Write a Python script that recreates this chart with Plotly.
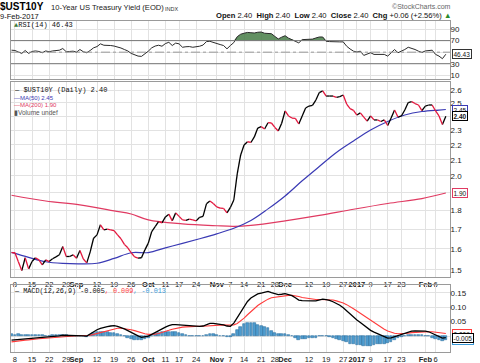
import math
import pandas as pd
import plotly.graph_objects as go

# ---------------- data ----------------
holidays = ["2016-09-05", "2016-10-10", "2016-11-11", "2016-11-24",
            "2016-12-26", "2017-01-02", "2017-01-16"]
dates = [d for d in pd.bdate_range("2016-08-05", "2017-02-09").strftime("%Y-%m-%d")
         if d not in holidays]

close = [1.582, 1.581, 1.538, 1.497, 1.557, 1.505, 1.539, 1.557, 1.547, 1.524,
         1.547, 1.539, 1.552, 1.561, 1.571, 1.611, 1.563, 1.563, 1.571, 1.555,
         1.592, 1.551, 1.533, 1.585, 1.653, 1.670, 1.722, 1.696, 1.699, 1.696,
         1.692, 1.670, 1.650, 1.622, 1.605, 1.581, 1.561, 1.555, 1.557, 1.595,
         1.628, 1.687, 1.713, 1.739, 1.732, 1.764, 1.779, 1.743, 1.786, 1.767,
         1.748, 1.746, 1.752, 1.748, 1.743, 1.762, 1.767, 1.836, 1.852, 1.838,
         1.819, 1.812, 1.811, 1.786, 1.816, 1.858, 2.012, 2.132, 2.198, 2.220,
         2.215, 2.253, 2.315, 2.325, 2.308, 2.353, 2.351, 2.319, 2.294, 2.349,
         2.439, 2.402, 2.387, 2.385, 2.344, 2.402, 2.461, 2.476, 2.481, 2.522,
         2.580, 2.594, 2.553, 2.553, 2.553, 2.543, 2.549, 2.561, 2.491, 2.457,
         2.444, 2.409, 2.425, 2.394, 2.365, 2.402, 2.373, 2.373, 2.362, 2.373,
         2.333, 2.387, 2.446, 2.394, 2.402, 2.446, 2.503, 2.510, 2.495, 2.484,
         2.442, 2.476, 2.484, 2.484, 2.439, 2.402, 2.340, 2.400]

ma50_idx = [0, 5, 10, 15, 20, 25, 30, 35, 40, 45, 50, 55, 60, 65, 70, 75, 80,
            85, 90, 95, 100, 105, 110, 115, 120, 125, 127]
ma50 = [1.583, 1.559, 1.538, 1.530, 1.528, 1.531, 1.554, 1.581, 1.582, 1.605,
        1.627, 1.650, 1.675, 1.704, 1.745, 1.808, 1.881, 1.970, 2.058, 2.148,
        2.225, 2.301, 2.362, 2.409, 2.435, 2.446, 2.450]

ma200_idx = [0, 10, 20, 30, 35, 40, 50, 60, 65, 70, 80, 90, 100, 110, 120, 127]
ma200 = [1.885, 1.852, 1.830, 1.797, 1.780, 1.748, 1.727, 1.717, 1.714, 1.719,
         1.743, 1.772, 1.806, 1.838, 1.866, 1.898]

rsi = [53.4, 52.9, 50.3, 47.8, 52.9, 47.8, 51.2, 52.1, 51.2, 49.0,
       52.1, 50.7, 52.1, 52.9, 53.4, 56.3, 50.7, 51.2, 51.7, 50.0,
       54.6, 50.7, 49.0, 52.9, 57.5, 59.7, 64.4, 62.0, 62.0, 61.5,
       60.6, 59.2, 57.2, 54.6, 52.1, 47.8, 45.2, 43.2, 42.7, 46.9,
       51.7, 57.5, 60.6, 62.0, 60.3, 64.9, 67.1, 61.5, 65.7, 64.4,
       58.5, 59.4, 59.7, 58.5, 58.9, 60.3, 62.3, 68.3, 68.8, 66.6,
       64.0, 63.2, 61.5, 55.8, 61.5, 66.6, 76.8, 81.1, 82.8, 84.2,
       83.7, 83.2, 84.5, 84.9, 82.8, 82.0, 82.0, 77.3, 72.9, 76.0,
       78.5, 74.3, 71.7, 69.1, 66.1, 71.7, 71.7, 71.7, 72.6, 74.6,
       76.3, 76.3, 68.8, 68.3, 67.8, 67.8, 67.8, 67.8, 60.3, 55.5,
       51.7, 50.3, 51.7, 44.4, 46.1, 49.0, 46.1, 46.1, 45.2, 46.1,
       43.2, 49.0, 54.6, 49.0, 51.2, 54.6, 58.5, 57.2, 54.6, 51.7,
       49.5, 52.1, 53.4, 53.4, 46.1, 43.2, 38.7, 46.43]

macd = [-0.014, -0.013, -0.011, -0.010, -0.009, -0.009, -0.008, -0.007, -0.006, -0.005,
        -0.005, -0.004, -0.002, -0.001, 0.001, 0.003, 0.003, 0.003, 0.003, 0.003,
        0.003, 0.001, 0.000, 0.008, 0.017, 0.022, 0.027, 0.031, 0.033, 0.035,
        0.036, 0.034, 0.030, 0.025, 0.019, 0.012, 0.006, 0.001, -0.004, -0.002,
        0.000, 0.006, 0.013, 0.019, 0.025, 0.031, 0.036, 0.040, 0.040, 0.039,
        0.038, 0.037, 0.035, 0.034, 0.034, 0.034, 0.035, 0.040, 0.044, 0.044,
        0.043, 0.041, 0.039, 0.035, 0.034, 0.045, 0.065, 0.083, 0.105, 0.120,
        0.132, 0.140, 0.146, 0.149, 0.152, 0.155, 0.151, 0.147, 0.144, 0.145,
        0.147, 0.144, 0.140, 0.133, 0.125, 0.123, 0.122, 0.122, 0.122, 0.122,
        0.126, 0.128, 0.126, 0.124, 0.119, 0.113, 0.107, 0.098, 0.087, 0.077,
        0.066, 0.056, 0.047, 0.037, 0.028, 0.020, 0.014, 0.009, 0.003, -0.002,
        -0.007, -0.006, -0.002, 0.002, 0.006, 0.010, 0.014, 0.017, 0.018, 0.018,
        0.018, 0.017, 0.015, 0.010, 0.004, -0.001, -0.007, -0.005]

signal = [-0.020, -0.018, -0.017, -0.015, -0.014, -0.013, -0.011, -0.010, -0.009, -0.008,
          -0.007, -0.006, -0.005, -0.004, -0.003, -0.001, 0.000, 0.001, 0.001, 0.002,
          0.002, 0.002, 0.002, 0.003, 0.006, 0.009, 0.013, 0.016, 0.020, 0.023,
          0.025, 0.027, 0.027, 0.026, 0.025, 0.022, 0.019, 0.015, 0.011, 0.008,
          0.006, 0.006, 0.007, 0.009, 0.012, 0.016, 0.020, 0.024, 0.027, 0.029,
          0.031, 0.032, 0.033, 0.033, 0.034, 0.034, 0.034, 0.035, 0.037, 0.038,
          0.039, 0.039, 0.039, 0.038, 0.038, 0.039, 0.044, 0.052, 0.062, 0.074,
          0.085, 0.096, 0.106, 0.114, 0.122, 0.128, 0.133, 0.135, 0.137, 0.139,
          0.140, 0.141, 0.141, 0.140, 0.137, 0.134, 0.132, 0.130, 0.128, 0.127,
          0.127, 0.127, 0.127, 0.126, 0.125, 0.122, 0.119, 0.115, 0.109, 0.103,
          0.095, 0.087, 0.079, 0.070, 0.062, 0.053, 0.045, 0.038, 0.031, 0.024,
          0.018, 0.013, 0.010, 0.008, 0.008, 0.009, 0.010, 0.012, 0.013, 0.014,
          0.015, 0.015, 0.015, 0.015, 0.014, 0.012, 0.011, 0.009]

tick_dates = ["2016-08-08", "2016-08-15", "2016-08-22", "2016-08-29", "2016-09-01",
              "2016-09-12", "2016-09-19", "2016-09-26", "2016-10-03", "2016-10-11",
              "2016-10-17", "2016-10-24", "2016-11-01", "2016-11-07", "2016-11-14",
              "2016-11-21", "2016-11-28", "2016-12-01", "2016-12-12", "2016-12-19",
              "2016-12-27", "2017-01-03", "2017-01-09", "2017-01-17", "2017-01-23",
              "2017-02-01", "2017-02-06"]
tick_text = ["8", "15", "22", "29", "<b>Sep</b>", "12", "19", "26", "<b>Oct</b>", "11",
             "17", "24", "<b>Nov</b>", "7", "14", "21", "28", "<b>Dec</b>", "12", "19",
             "27", "<b>2017</b>", "9", "17", "23", "<b>Feb</b>", "6"]

price_ticks = [1.5, 1.6, 1.7, 1.8, 1.9, 2.0, 2.1, 2.2, 2.3, 2.4, 2.5, 2.6]
# 1.9 and 2.4 sit under the last-value boxes, as in the reference
price_tick_text = ["1.5", "1.6", "1.7", "1.8", "", "2.0", "2.1", "2.2", "2.3", "", "2.5", "2.6"]
rsi_ticks = [10, 30, 50, 70, 90]
rsi_tick_text = ["10", "30", "", "70", "90"]
macd_ticks = [0.0, 0.05, 0.10, 0.15]
macd_tick_text = ["", "0.05", "0.10", "0.15"]

# ---------------- styling ----------------
W, H = 480, 363
L, R, T, B = 11, 30, 21, 11
PW, PH = W - L - R, H - T - B
UP_C, DN_C = "#000000", "#e3173e"
MA50_C, MA200_C = "#3a3ab4", "#e03a62"
GRID = "#e2e2e2"
FRAME = "#9a9a9a"
SANS = "Liberation Sans, Arial, sans-serif"
MONO = "Liberation Mono, DejaVu Sans Mono, monospace"


def fx(p):
    return (p - L) / PW


def fy(p):
    return (H - B - p) / PH


n = len(close)
x = list(range(n))
tickvals = [dates.index(d) for d in tick_dates]

fig = go.Figure()

# RSI panel
fig.add_trace(go.Scatter(x=x, y=[70] * n, xaxis="x", yaxis="y", mode="lines",
                         line=dict(width=0), hoverinfo="skip"))
fig.add_trace(go.Scatter(x=x, y=[max(v, 70) for v in rsi], xaxis="x", yaxis="y",
                         mode="lines", line=dict(width=0), fill="tonexty",
                         fillcolor="rgba(70,125,70,0.85)", hoverinfo="skip"))
fig.add_trace(go.Scatter(x=x, y=rsi, xaxis="x", yaxis="y", mode="lines",
                         line=dict(color="#2a2a2a", width=1)))

# Price panel
fig.add_trace(go.Scatter(x=ma200_idx, y=ma200, xaxis="x2", yaxis="y2", mode="lines",
                         line=dict(color=MA200_C, width=1.2, shape="spline")))
fig.add_trace(go.Scatter(x=ma50_idx, y=ma50, xaxis="x2", yaxis="y2", mode="lines",
                         line=dict(color=MA50_C, width=1.2, shape="spline")))
ux, uy, dx, dy = [], [], [], []
for i in range(1, n):
    tx, ty = (ux, uy) if close[i] >= close[i - 1] else (dx, dy)
    tx += [x[i - 1], x[i], None]
    ty += [close[i - 1], close[i], None]
fig.add_trace(go.Scatter(x=ux, y=uy, xaxis="x2", yaxis="y2", mode="lines",
                         line=dict(color=UP_C, width=1.3)))
fig.add_trace(go.Scatter(x=dx, y=dy, xaxis="x2", yaxis="y2", mode="lines",
                         line=dict(color=DN_C, width=1.3)))

# MACD panel
hist = [m - s for m, s in zip(macd, signal)]
fig.add_trace(go.Bar(x=x, y=hist, xaxis="x3", yaxis="y3", width=0.8,
                     marker=dict(color="#4d9ccf", line=dict(color="#2f70a0", width=0.6))))
fig.add_trace(go.Scatter(x=x, y=signal, xaxis="x3", yaxis="y3", mode="lines",
                         line=dict(color="#ff3b3b", width=1.1)))
fig.add_trace(go.Scatter(x=x, y=macd, xaxis="x3", yaxis="y3", mode="lines",
                         line=dict(color="#000000", width=1.3)))

xr = [-0.15, (W - R - L - 0.5) / 3.42]
xcommon = dict(range=xr, tickvals=tickvals, ticktext=tick_text, showgrid=True,
               gridcolor=GRID, gridwidth=1, showline=True, mirror=True,
               linecolor=FRAME, linewidth=1, ticks="", zeroline=False,
               tickangle=0, automargin=False,
               tickfont=dict(family=SANS, size=7.5, color="#222"))
ycommon = dict(side="right", showgrid=True, gridcolor=GRID, showline=True,
               mirror=True, linecolor=FRAME, linewidth=1, ticks="",
               zeroline=False, automargin=False, ticklabelstandoff=-2,
               tickfont=dict(family=SANS, size=8, color="#222"))

fig.update_layout(
    width=W, height=H, margin=dict(l=L, r=R, t=T, b=B, autoexpand=False),
    paper_bgcolor="white", plot_bgcolor="white", showlegend=False,
    bargap=0,
    xaxis=dict(xcommon, anchor="y", showticklabels=False),
    xaxis2=dict(xcommon, anchor="y2", matches="x", showticklabels=True),
    xaxis3=dict(xcommon, anchor="y3", matches="x", showticklabels=True),
    yaxis=dict(ycommon, anchor="x", domain=[fy(79), fy(21)], range=[3.5, 104],
               tickvals=rsi_ticks, ticktext=rsi_tick_text),
    yaxis2=dict(ycommon, anchor="x2", domain=[fy(277), fy(82)], type="log",
                range=[math.log10(1.468), math.log10(2.665)],
                tickvals=price_ticks, ticktext=price_tick_text),
    yaxis3=dict(ycommon, anchor="x3", domain=[0, fy(285)], range=[-0.055, 0.177],
                tickvals=macd_ticks, ticktext=macd_tick_text),
)

# RSI reference lines
shapes = [
    dict(type="line", xref="x", yref="y", x0=xr[0], x1=xr[1], y0=70, y1=70,
         line=dict(color="#777", width=1)),
    dict(type="line", xref="x", yref="y", x0=xr[0], x1=xr[1], y0=30, y1=30,
         line=dict(color="#777", width=1)),
    dict(type="line", xref="x", yref="y", x0=xr[0], x1=xr[1], y0=50, y1=50,
         line=dict(color="#999", width=1, dash="dashdot")),
]
fig.update_layout(shapes=shapes)

ann = []


def text(xp, yp, s, size, color="#000", family=SANS, anchor="left"):
    ann.append(dict(xref="paper", yref="paper", x=fx(xp), y=fy(yp), text=s,
                    showarrow=False, xanchor=anchor, yanchor="middle",
                    font=dict(family=family, size=size, color=color),
                    borderpad=0))


# header
text(-1, 7, "<b>$UST10Y</b>", 10)
text(50, 8, "10-Year US Treasury Yield (EOD)", 7.6, "#222")
text(164, 8.5, "INDX", 5.5, "#333")
text(-1, 16.5, "9-Feb-2017", 7.5, "#111")
text(452, 6, "©StockCharts.com", 7, "#666", anchor="right")
text(452, 15.5, "<b>Open</b> 2.40  <b>High</b> 2.40  <b>Low</b> 2.40  <b>Close</b> 2.40  "
     "<b>Chg</b> +0.06 (+2.56%) <span style='color:#2a8a2a'>▲</span>", 7.6, "#111",
     anchor="right")

# panel legends
text(13, 25, "<span style='color:#3c7a3c'>▲</span>RSI(14) 46.43", 7, "#111", MONO)
text(13, 90.5, "— $UST10Y (Daily) 2.40", 7, "#111", MONO)
text(13, 98, "—MA(50) 2.45", 6, MA50_C)
text(13, 105.3, "—MA(200) 1.90", 6, MA200_C)
text(13, 112.7, "▮Volume undef", 6.5, "#555")
text(13, 290.7, "— MACD(12,26,9) -0.005<span style='color:#ff3b3b'>, 0.009</span>"
     "<span style='color:#3a9ad9'>, -0.013</span>", 6.8, "#111", MONO)


def box(yref, yv, s, col):
    ann.append(dict(xref="paper", yref=yref, x=1.0, y=yv, text=s, showarrow=False,
                    xanchor="left", yanchor="middle", xshift=2,
                    font=dict(family=SANS, size=6.5, color="#111"),
                    bgcolor="white", bordercolor=col, borderwidth=1, borderpad=0.5))


box("y", 46.43, "46.43", "#333")
box("y2", math.log10(1.90), "1.90", MA200_C)
box("y2", math.log10(2.45), "2.45", MA50_C)
box("y2", math.log10(2.40), "<b>2.40</b>", "#000")
box("y3", 0.009, "0.009", "#ff3b3b")
box("y3", -0.013, "-0.013", "#3a9ad9")
box("y3", -0.005, "-0.005", "#000")

fig.update_layout(annotations=ann)
fig.write_html("out.html", config={"displayModeBar": False},
               post_script="document.body.style.margin='0px';"
                           "document.body.style.overflow='hidden';")
